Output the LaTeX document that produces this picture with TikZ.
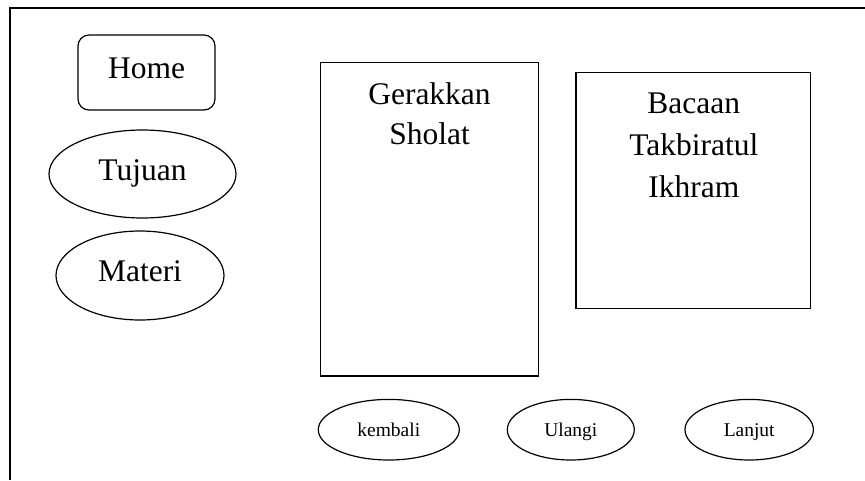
\documentclass[tikz,border=0pt]{standalone}
\usepackage{fontspec}
\setmainfont{Liberation Serif}
\usetikzlibrary{shapes.geometric}
\begin{document}
\begin{tikzpicture}[x=1pt,y=-1pt,
  shp/.style={draw=black,line width=1.2pt,inner sep=0pt},
  bigfont/.style={font=\fontsize{31.5}{40}\selectfont},
  smallfont/.style={font=\fontsize{19.5}{24}\selectfont},
  oval/.style={shp,ellipse},
  panel/.style={shp,rectangle},
  paneltext/.style={bigfont,align=center,anchor=north,inner sep=0pt}]
\useasboundingbox (0,0) rectangle (865,480);
% open frame
\coordinate (ftl) at (10,8);
\coordinate (ftr) at (865,8);
\coordinate (fbl) at (10,480);
\draw[line width=1.8pt] (fbl) -- (ftl) -- (ftr);
% left menu
\node[panel,rounded corners=11pt,minimum width=137pt,minimum height=75pt,bigfont,text height=21pt,text depth=10pt] (home) at (146.5,72.5) {Home};
\node[oval,minimum width=187pt,minimum height=88pt,bigfont,text height=21pt,text depth=7.6pt] (tujuan) at (142.5,174) {Tujuan};
\node[oval,minimum width=168pt,minimum height=89pt,bigfont,text height=21pt,text depth=8.6pt] (materi) at (140,275.5) {Materi};
% panels
\node[panel,minimum width=217.6pt,minimum height=313.3pt] (gs) at (429.5,219.35) {};
\node[paneltext] (gstext) at (429.5,82.5) {Gerakkan\\Sholat};
\node[panel,minimum width=234.7pt,minimum height=235.6pt] (bt) at (693.35,190.5) {};
\node[paneltext,font=\fontsize{31.5}{42}\selectfont] (bttext) at (693.8,92.4) {Bacaan\\Takbiratul\\Ikhram};
% bottom buttons
\node[oval,minimum width=141pt,minimum height=60.6pt,smallfont,text height=14pt,text depth=1.4pt] (kembali) at (388.8,429.7) {kembali};
\node[oval,minimum width=127pt,minimum height=60.6pt,smallfont,text height=14pt,text depth=1.4pt] (ulangi) at (570.8,429.7) {Ulangi};
\node[oval,minimum width=128.4pt,minimum height=60.6pt,smallfont,text height=14pt,text depth=1.4pt] (lanjut) at (749.2,429.7) {Lanjut};
\end{tikzpicture}
\end{document}
